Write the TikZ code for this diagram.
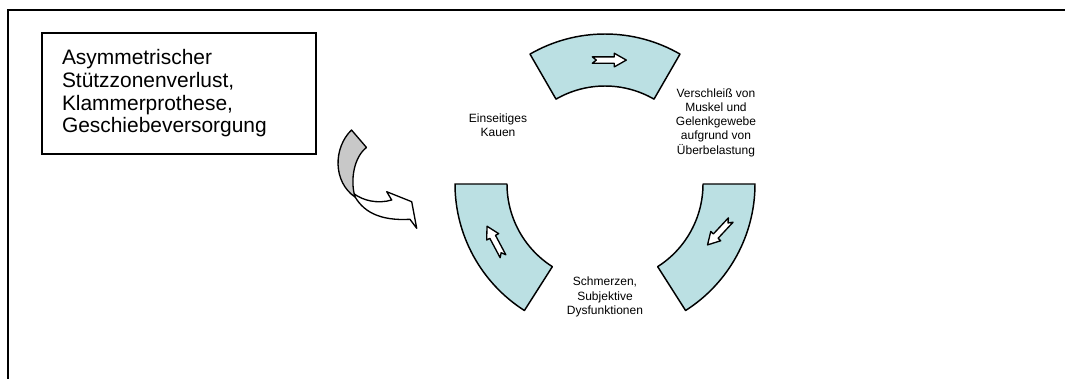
\documentclass[tikz,border=0pt]{standalone}
\usepackage{fontspec}
\setmainfont{Liberation Sans}
\usetikzlibrary{positioning}
\definecolor{cyclefill}{HTML}{BBE0E3}
\definecolor{twistfill}{HTML}{C8C8C8}

\begin{document}
\begin{tikzpicture}[
    x=0.75pt, y=-0.75pt,
    font=\fontsize{9}{10.65}\selectfont,
    frameline/.style={line width=1.5pt},
    causebox/.style={
        draw,
        line width=0.9pt,
        align=left,
        text width=175.5pt,
        inner xsep=15pt,
        inner ysep=0pt,
        minimum width=205.5pt,
        minimum height=90.75pt,
        font=\fontsize{15.7}{17}\selectfont
    },
    cyclelabel/.style={align=center, inner sep=0pt},
    segment/.style={draw, fill=cyclefill, line width=1.1pt, line join=round},
    twist/.style={draw, line width=1pt, line join=round},
    blockarrow/.pic={
        \draw[fill=white, line width=1pt, line join=round]
            (-17,3.2) -- (5,3.2) -- (5,6.8) -- (17,0) -- (5,-6.8)
            -- (5,-3.2) -- (-17,-3.2) -- (-13,0) -- cycle;
    }
]
\useasboundingbox (0,0) rectangle (1065,379);

% frame, only top and left edge
\coordinate (frametl) at (8,10);
\draw[frameline] (1065,10) -- (frametl) -- (8,379);

\node[causebox] (cause) at (179,93.5) {Asymmetrischer\\
Stützzonenverlust,\\
Klammerprothese,\\
Geschiebeversorgung};

% twisted arrow towards the cycle
\draw[twist, fill=white] (353,193) .. controls (363,201) and (378,204) .. (391.7,200)
    -- (386.7,191.7) -- (411.7,201.7) -- (416.7,228.3) -- (410,219.3)
    .. controls (380,221) and (362,212) .. (353,193) -- cycle;
\draw[twist, fill=twistfill] (351.5,130) -- (366.5,147.5)
    .. controls (354,157) and (350,180) .. (355,197)
    .. controls (333,182) and (333,148) .. (351.5,130) -- cycle;

% cycle
\begin{scope}[shift={(605,184)}, y=0.75pt]
\draw[segment] (60:150) arc[start angle=60, end angle=120, radius=150]
    -- (120:98) arc[start angle=120, end angle=60, radius=98] -- cycle;
\draw[segment] (-57.5:150) arc[start angle=-57.5, end angle=0, radius=150]
    -- (0:98) arc[start angle=0, end angle=-57.5, radius=98] -- cycle;
\draw[segment] (180:150) arc[start angle=180, end angle=237.5, radius=150]
    -- (237.5:98) arc[start angle=237.5, end angle=180, radius=98] -- cycle;
\pic[rotate=0] at (88:124) {blockarrow};
\pic[rotate=-133] at (-23:124) {blockarrow};
\pic[rotate=118] at (207.5:124) {blockarrow};
\end{scope}

\node[cyclelabel] (chewing) at (498,125) {Einseitiges\\Kauen};
\node[cyclelabel] (wear) at (716,122.5) {Verschleiß von\\Muskel und\\Gelenkgewebe\\aufgrund von\\Überbelastung};
\node[cyclelabel] (pain) at (605,297) {Schmerzen,\\Subjektive\\Dysfunktionen};
\end{tikzpicture}
\end{document}
